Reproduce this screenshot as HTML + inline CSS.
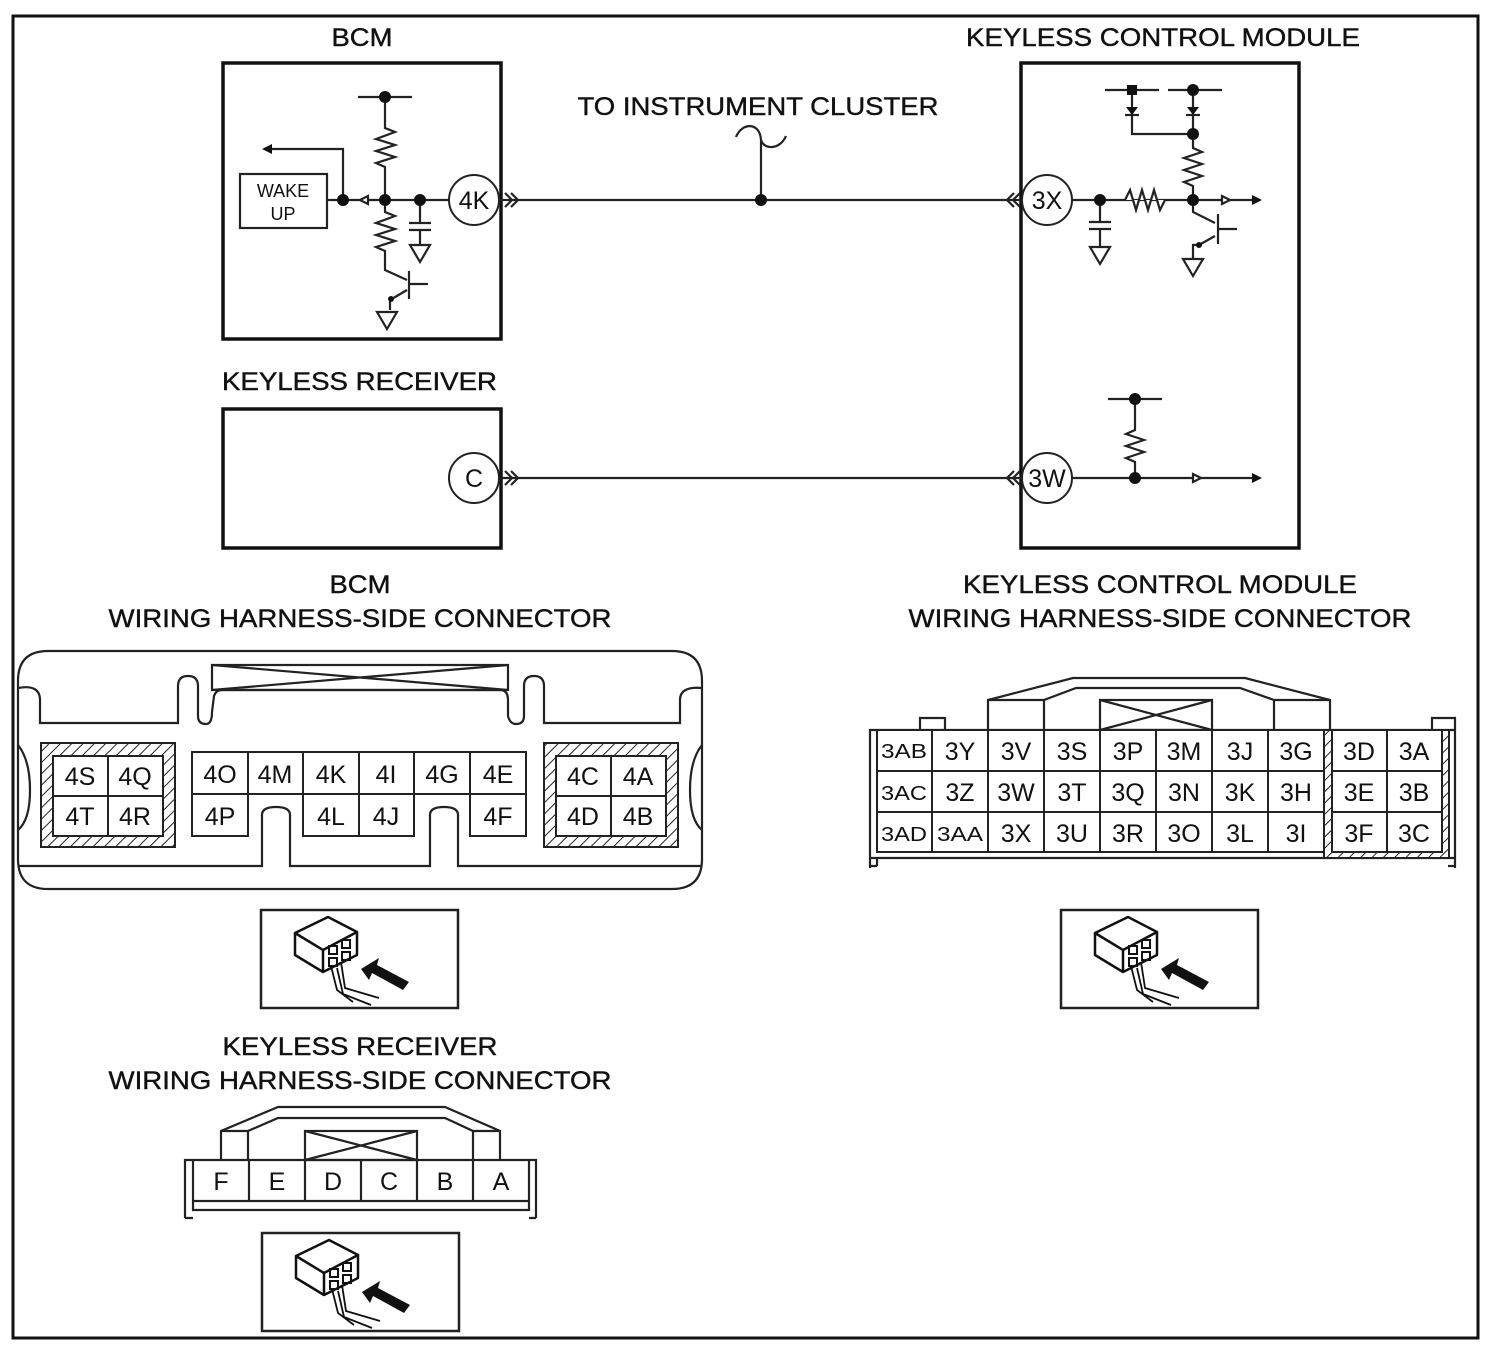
<!DOCTYPE html>
<html><head><meta charset="utf-8"><style>
html,body{margin:0;padding:0;background:#fff;}
svg{display:block;}
text{font-family:"Liberation Sans",Arial,sans-serif;fill:#111;}
</style></head><body>
<svg width="1494" height="1350" viewBox="0 0 1494 1350" xmlns="http://www.w3.org/2000/svg">
<defs>
<pattern id="h" width="8" height="8" patternUnits="userSpaceOnUse" patternTransform="rotate(45)">
<rect width="8" height="8" fill="#fff"/><line x1="0" y1="0" x2="0" y2="8" stroke="#222" stroke-width="2"/>
</pattern>
<g id="icon">
<rect x="0" y="0" width="197" height="98" fill="#fff" stroke="#222" stroke-width="2.5"/>
<path d="M34,23 L67,7 L96,22 L62,40 Z M34,23 L62,40 L62,62 L34,45 Z M62,40 L96,22 L96,45 L62,62 Z" fill="#fff" stroke="#111" stroke-width="2.5" stroke-linejoin="round"/>
<rect x="68" y="36" width="8" height="8" fill="none" stroke="#111" stroke-width="2"/>
<rect x="81" y="30" width="8" height="8" fill="none" stroke="#111" stroke-width="2"/>
<rect x="68" y="48" width="8" height="8" fill="none" stroke="#111" stroke-width="2"/>
<rect x="81" y="42" width="8" height="8" fill="none" stroke="#111" stroke-width="2"/>
<path d="M70,56 L76,80 L92,92 M80,52 L84,78 L118,88 M76,58 L82,84 L110,95" fill="none" stroke="#111" stroke-width="1.8"/>
<polygon points="100,59 118,48 116,55 148,72 142,80 111,63 108,70" fill="#111"/>
</g>
</defs>
<rect x="13" y="16" width="1465" height="1322" fill="none" stroke="#111" stroke-width="3"/>

<g font-size="25" stroke="#111" stroke-width="0.4">
<text x="362" y="46" text-anchor="middle" textLength="61" lengthAdjust="spacingAndGlyphs">BCM</text>
<text x="1163" y="46" text-anchor="middle" textLength="394" lengthAdjust="spacingAndGlyphs">KEYLESS CONTROL MODULE</text>
<text x="758" y="115" text-anchor="middle" textLength="361" lengthAdjust="spacingAndGlyphs">TO INSTRUMENT CLUSTER</text>
<text x="222" y="390" textLength="275" lengthAdjust="spacingAndGlyphs">KEYLESS RECEIVER</text>
<text x="360" y="593" text-anchor="middle" textLength="61" lengthAdjust="spacingAndGlyphs">BCM</text>
<text x="360" y="627" text-anchor="middle" textLength="503" lengthAdjust="spacingAndGlyphs">WIRING HARNESS-SIDE CONNECTOR</text>
<text x="1160" y="593" text-anchor="middle" textLength="394" lengthAdjust="spacingAndGlyphs">KEYLESS CONTROL MODULE</text>
<text x="1160" y="627" text-anchor="middle" textLength="503" lengthAdjust="spacingAndGlyphs">WIRING HARNESS-SIDE CONNECTOR</text>
<text x="360" y="1055" text-anchor="middle" textLength="275" lengthAdjust="spacingAndGlyphs">KEYLESS RECEIVER</text>
<text x="360" y="1089" text-anchor="middle" textLength="503" lengthAdjust="spacingAndGlyphs">WIRING HARNESS-SIDE CONNECTOR</text>
</g>

<g fill="none" stroke="#111" stroke-width="3.5">
<rect x="223" y="63" width="278" height="276"/>
<rect x="223" y="409" width="278" height="139"/>
<rect x="1021" y="63" width="278" height="485"/>
</g>

<g stroke="#222" stroke-width="2.2" fill="none">
<line x1="499" y1="200" x2="1022" y2="200"/>
<line x1="499" y1="478" x2="1022" y2="478"/>
<path d="M761,200 L761,140 C760,122 742,122 736,137 M761,140 C764,150 780,150 786,136"/>
<path d="M505,193 L512,200 L505,207 M511,193 L518,200 L511,207"/>
<path d="M505,471 L512,478 L505,485 M511,471 L518,478 L511,485"/>
<path d="M1014,193 L1007,200 L1014,207 M1020,193 L1013,200 L1020,207"/>
<path d="M1014,471 L1007,478 L1014,485 M1020,471 L1013,478 L1020,485"/>

<line x1="327" y1="200" x2="450" y2="200"/>
<line x1="358" y1="97" x2="412" y2="97"/>
<path d="M385,97 L385,128 L395,132 L376,139 L395,145 L376,151 L395,157 L376,163 L385,167 L385,212 L395,216 L376,223 L395,229 L376,235 L395,241 L376,247 L385,251 L385,270 L407,280"/>
<line x1="409" y1="271" x2="409" y2="299"/>
<line x1="409" y1="284" x2="428" y2="284"/>
<path d="M407,290 L390,300 L390,310"/>
<polygon points="377,312 397,312 387,329"/>
<path d="M343,200 L343,149 L270,149"/>
<polygon points="360,200 368,196 368,204" fill="#fff"/>
<path d="M420,200 L420,223 M409,223 L431,223 M409,230 L431,230 M420,230 L420,245"/>
<polygon points="410,245 430,245 420,262"/>
<rect x="240" y="174" width="87" height="54"/>

<line x1="1072" y1="200" x2="1255" y2="200"/>
<path d="M1100,200 L1100,222 M1089,222 L1111,222 M1089,229 L1111,229 M1100,229 L1100,247"/>
<polygon points="1090,247 1110,247 1100,264"/>
<path d="M1125,200 L1130,190 L1136,210 L1142,190 L1148,210 L1154,190 L1160,210 L1165,200" fill="#fff" stroke-width="2.2"/>
<path d="M1193,200 L1193,186 L1184,182 L1202,176 L1184,170 L1202,164 L1184,158 L1202,152 L1193,148 L1193,90"/>
<path d="M1193,134 L1132,134 L1132,90"/>
<line x1="1105" y1="90" x2="1159" y2="90"/>
<line x1="1168" y1="90" x2="1222" y2="90"/>
<line x1="1125" y1="115" x2="1139" y2="115"/>
<line x1="1186" y1="115" x2="1200" y2="115"/>
<path d="M1193,200 L1193,212 L1215,223"/>
<line x1="1218" y1="214" x2="1218" y2="244"/>
<line x1="1218" y1="229" x2="1237" y2="229"/>
<path d="M1215,236 L1199,245 L1193,245 L1193,258"/>
<polygon points="1183,259 1203,259 1193,276"/>
<polygon points="1222,196 1230,200 1222,204" fill="#fff"/>

<line x1="1072" y1="478" x2="1255" y2="478"/>
<path d="M1135,478 L1135,462 L1126,458 L1144,452 L1126,446 L1144,440 L1126,434 L1135,430 L1135,399"/>
<line x1="1108" y1="399" x2="1162" y2="399"/>
<polygon points="1193,474 1201,478 1193,482" fill="#fff"/>
</g>
<g fill="#111">
<circle cx="385" cy="97" r="6"/><circle cx="343" cy="200" r="6"/><circle cx="385" cy="200" r="6"/><circle cx="420" cy="200" r="6"/>
<polygon points="262,149 272,144 272,154"/>
<circle cx="761" cy="200" r="6"/>
<circle cx="1100" cy="200" r="6"/><circle cx="1193" cy="200" r="6"/><circle cx="1193" cy="134" r="6"/><circle cx="1193" cy="90" r="6"/>
<rect x="1127" y="85" width="10" height="10"/>
<polygon points="1126,107 1138,107 1132,115"/><polygon points="1187,107 1199,107 1193,115"/>
<polygon points="1262,200 1252,195 1252,205"/>
<circle cx="1135" cy="478" r="6"/><circle cx="1135" cy="399" r="6"/>
<polygon points="1262,478 1252,473 1252,483"/>
<circle cx="391" cy="299" r="3"/><circle cx="1199" cy="245" r="3"/>
</g>
<g fill="#fff" stroke="#222" stroke-width="2">
<circle cx="474" cy="200" r="25"/><circle cx="474" cy="478" r="25"/>
<circle cx="1047" cy="200" r="25"/><circle cx="1047" cy="478" r="25"/>
</g>
<g font-size="25" text-anchor="middle">
<text x="474" y="209">4K</text><text x="474" y="487">C</text>
<text x="1047" y="209">3X</text><text x="1047" y="487">3W</text>
</g>
<g font-size="18" text-anchor="middle"><text x="283" y="197">WAKE</text><text x="283" y="220">UP</text></g>

<g fill="none" stroke="#222" stroke-width="2.2">
<path d="M48,651 L672,651 Q702,651 702,681 L702,859 Q702,889 672,889 L48,889 Q18,889 18,859 L18,681 Q18,651 48,651 Z"/>
<path d="M18,688 Q40,684 40,700 L40,723 L178,723 L178,686 Q178,676 188,676 Q198,676 198,686 L198,716 Q198,724 206,724 Q212,724 212,712 L214,696 Q216,690 222,690 L500,690 Q508,690 508,700 L508,716 Q510,724 516,724 Q524,724 524,716 L524,686 Q524,676 534,676 Q544,676 544,686 L544,723 L680,723 L680,700 Q680,686 702,688"/>
<rect x="212" y="665" width="296" height="25"/>
<path d="M212,665 L508,690 M508,665 L212,690"/>
<path d="M18,866 L262,866 L262,815 Q262,807 276,807 Q290,807 290,815 L290,866 L430,866 L430,815 Q430,807 444,807 Q458,807 458,815 L458,866 L702,866"/>
<path d="M18,745 Q30,760 30,790 Q30,820 18,830 M702,745 Q690,760 690,790 Q690,820 702,830"/>
</g>
<rect x="41" y="743" width="134" height="104" fill="url(#h)" stroke="#222" stroke-width="2"/>
<rect x="544" y="743" width="134" height="104" fill="url(#h)" stroke="#222" stroke-width="2"/>
<g fill="#fff" stroke="#222" stroke-width="2">
<rect x="53" y="756" width="55" height="40"/><rect x="108" y="756" width="55" height="40"/>
<rect x="53" y="796" width="55" height="40"/><rect x="108" y="796" width="55" height="40"/>
<rect x="556" y="756" width="55" height="40"/><rect x="611" y="756" width="55" height="40"/>
<rect x="556" y="796" width="55" height="40"/><rect x="611" y="796" width="55" height="40"/>
<rect x="192" y="752" width="56" height="42"/><rect x="248" y="752" width="55" height="42"/><rect x="303" y="752" width="56" height="42"/><rect x="359" y="752" width="55" height="42"/><rect x="414" y="752" width="56" height="42"/><rect x="470" y="752" width="56" height="42"/>
<rect x="192" y="794" width="56" height="42"/><rect x="303" y="794" width="56" height="42"/><rect x="359" y="794" width="55" height="42"/><rect x="470" y="794" width="56" height="42"/>
</g>
<g font-size="25" text-anchor="middle">
<text x="80" y="785">4S</text><text x="135" y="785">4Q</text><text x="80" y="825">4T</text><text x="135" y="825">4R</text>
<text x="583" y="785">4C</text><text x="638" y="785">4A</text><text x="583" y="825">4D</text><text x="638" y="825">4B</text>
<text x="220" y="783">4O</text><text x="275" y="783">4M</text><text x="331" y="783">4K</text><text x="386" y="783">4I</text><text x="442" y="783">4G</text><text x="498" y="783">4E</text>
<text x="220" y="825">4P</text><text x="331" y="825">4L</text><text x="386" y="825">4J</text><text x="498" y="825">4F</text>
</g>

<g fill="none" stroke="#222" stroke-width="2.2">
<path d="M870,868 L870,730 L1455,730 L1455,868"/>
<path d="M877,858 L877,866 M870,858 L1455,858 M870,866 L877,866 M1448,866 L1455,866"/>
<path d="M920,730 L920,718 L945,718 L945,730 M1432,730 L1432,718 L1455,718 L1455,730"/>
<path d="M988,730 L988,700 L1073,678 L1245,678 L1330,700 L1330,730"/>
<path d="M1044,730 L1044,700 L1076,688 L1240,688 L1274,700 L1274,730 M988,700 L1044,700 M1274,700 L1330,700"/>
<rect x="1100" y="700" width="112" height="30"/>
<path d="M1100,700 L1212,730 M1212,700 L1100,730"/>
</g>
<rect x="1324" y="730" width="125" height="128" fill="url(#h)" stroke="#222" stroke-width="2"/>
<g fill="#fff" stroke="#222" stroke-width="2">
<rect x="877" y="730" width="447" height="122"/>
<rect x="1332" y="730" width="110" height="122"/>
<path d="M932,730 V852 M988,730 V852 M1044,730 V852 M1100,730 V852 M1156,730 V852 M1212,730 V852 M1268,730 V852 M877,771 H1324 M877,812 H1324 M1387,730 V852 M1332,771 H1442 M1332,812 H1442" fill="none"/>
</g>
<g font-size="25" text-anchor="middle">
<g font-size="20"><text x="904" y="758" textLength="46" lengthAdjust="spacingAndGlyphs">3AB</text><text x="904" y="800" textLength="46" lengthAdjust="spacingAndGlyphs">3AC</text><text x="904" y="841" textLength="46" lengthAdjust="spacingAndGlyphs">3AD</text><text x="960" y="841" textLength="46" lengthAdjust="spacingAndGlyphs">3AA</text></g>
<text x="960" y="760">3Y</text><text x="1016" y="760">3V</text><text x="1072" y="760">3S</text><text x="1128" y="760">3P</text><text x="1184" y="760">3M</text><text x="1240" y="760">3J</text><text x="1296" y="760">3G</text><text x="1359" y="760">3D</text><text x="1414" y="760">3A</text>
<text x="960" y="801">3Z</text><text x="1016" y="801">3W</text><text x="1072" y="801">3T</text><text x="1128" y="801">3Q</text><text x="1184" y="801">3N</text><text x="1240" y="801">3K</text><text x="1296" y="801">3H</text><text x="1359" y="801">3E</text><text x="1414" y="801">3B</text>
<text x="1016" y="842">3X</text><text x="1072" y="842">3U</text><text x="1128" y="842">3R</text><text x="1184" y="842">3O</text><text x="1240" y="842">3L</text><text x="1296" y="842">3I</text><text x="1359" y="842">3F</text><text x="1414" y="842">3C</text>
</g>

<g fill="none" stroke="#222" stroke-width="2.2">
<path d="M185,1218 L185,1160 L536,1160 L536,1218 M193,1160 L193,1210 L529,1210 L529,1160 M185,1218 L193,1218 M529,1218 L536,1218"/>
<path d="M221,1160 L221,1131 L278,1107 L445,1107 L500,1131 L500,1160"/>
<path d="M248,1160 L248,1131 L278,1118 L445,1118 L473,1131 L473,1160 M221,1131 L248,1131 M473,1131 L500,1131"/>
<rect x="305" y="1131" width="112" height="29"/>
<path d="M305,1131 L417,1160 M417,1131 L305,1160"/>
<path d="M193,1201 L529,1201 M249,1160 V1201 M305,1160 V1201 M361,1160 V1201 M417,1160 V1201 M473,1160 V1201"/>
</g>
<g font-size="25" text-anchor="middle">
<text x="221" y="1190">F</text><text x="277" y="1190">E</text><text x="333" y="1190">D</text><text x="389" y="1190">C</text><text x="445" y="1190">B</text><text x="501" y="1190">A</text>
</g>

<use href="#icon" x="261" y="910"/>
<use href="#icon" x="1061" y="910"/>
<use href="#icon" x="262" y="1233"/>
</svg>
</body></html>
